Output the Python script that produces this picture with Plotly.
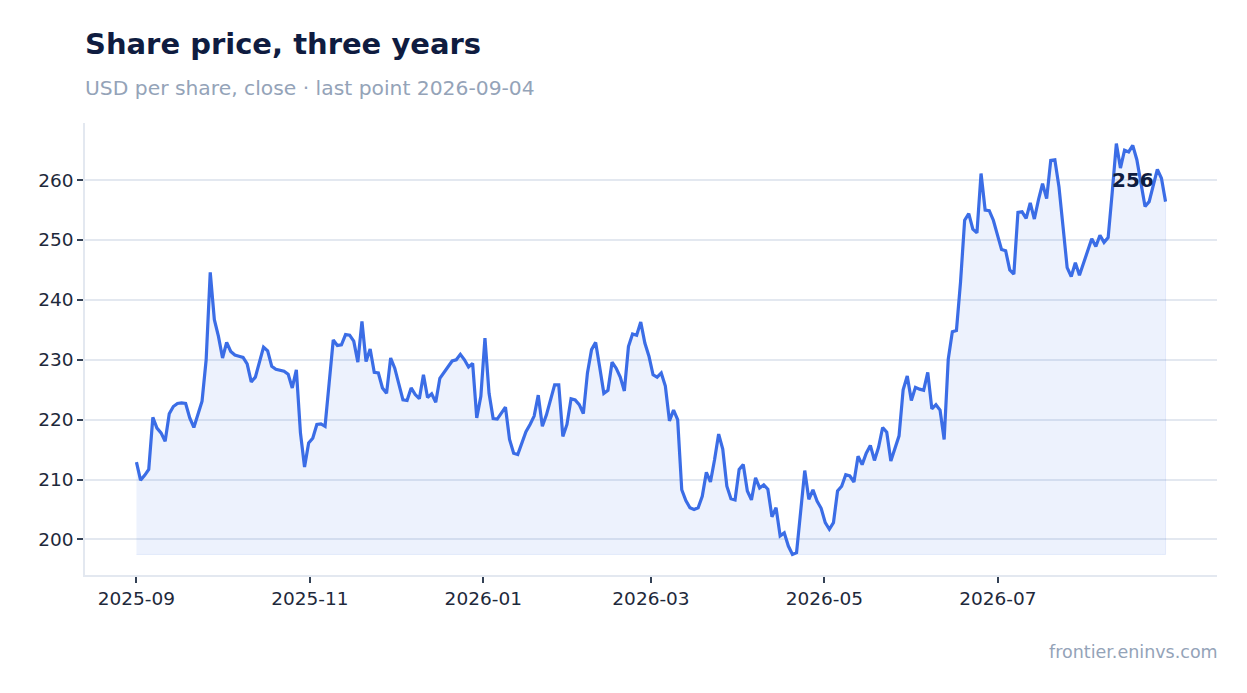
import pandas as pd
import plotly.graph_objects as go

# ---- data -------------------------------------------------------------
start_date = "2025-09-01"
end_date = "2026-08-29"

prices = [
    212.9, 209.9, 210.7, 211.7, 220.4, 218.6, 217.8, 216.4, 221.0, 222.2,
    222.7, 222.8, 222.7, 220.3, 218.7, 220.8, 223.1, 230.0, 244.6, 236.7,
    233.9, 230.3, 232.9, 231.4, 230.8, 230.6, 230.4, 229.3, 226.3, 227.1,
    229.6, 232.1, 231.5, 228.9, 228.4, 228.2, 228.1, 227.6, 225.3, 228.3,
    217.8, 212.1, 216.1,
    216.9, 219.2, 219.3, 218.9, 226.1, 233.3, 232.4, 232.5, 234.2, 234.1,
    233.1, 229.6, 236.4, 229.7, 231.8, 227.9, 227.8, 225.3, 224.4, 230.3,
    228.6, 226.0, 223.3, 223.2, 225.3, 224.2, 223.5, 227.5, 223.7, 224.3,
    222.9, 226.9, 227.9, 228.7, 229.8, 230.0, 230.9, 230.0, 228.8, 229.4,
    220.3, 223.9, 233.6, 224.4, 220.2, 220.1, 221.0, 222.1, 216.7, 214.4,
    214.2, 216.1, 218.0, 219.2, 220.6, 224.1, 218.9, 220.8, 223.3, 225.8,
    225.8, 217.2, 219.2, 223.5, 223.3, 222.5, 221.0, 227.8, 231.7, 232.9,
    228.7, 224.4, 224.9, 229.6, 228.6, 227.1, 224.8, 232.2, 234.3, 234.1,
    236.3, 232.8, 230.6,
    227.5, 227.1, 227.8, 225.6, 219.8, 221.6, 220.0, 208.3, 206.5, 205.3,
    205.0, 205.3, 207.2, 211.2, 209.6, 213.3, 217.6, 215.1, 208.9, 206.8,
    206.6, 211.7, 212.5, 208.1, 206.6, 210.3, 208.6, 209.1, 208.4, 203.8,
    205.3, 200.6, 201.1, 198.9, 197.5, 197.8, 204.6, 211.5, 206.7, 208.3,
    206.4, 205.2, 202.8, 201.7, 202.8, 208.1,
    208.9, 210.8, 210.6, 209.6, 213.9, 212.5, 214.4, 215.7, 213.2, 215.4,
    218.7, 217.9, 213.1, 215.1, 217.3, 225.0, 227.3, 223.2, 225.4, 225.1,
    224.9, 227.9, 221.8, 222.5, 221.6, 216.7, 230.1, 234.7, 234.9, 243.0,
    253.3, 254.4, 251.8, 251.2, 261.1, 255.0, 254.9,
    253.3, 250.8, 248.4, 248.2, 245.0, 244.3, 254.6, 254.7, 253.6, 256.2,
    253.5, 256.7, 259.4, 256.9, 263.3, 263.4, 258.9, 252.2, 245.4, 243.9,
    246.2, 244.1, 246.1, 247.9, 250.2, 248.9, 250.8, 249.6, 250.4, 258.0,
    266.1, 262.0, 265.0, 264.7, 265.8, 263.4, 259.4, 255.6, 256.4, 259.4,
    261.8, 260.3, 256.4,
]

title_text = "Share price, three years"
subtitle_text = "USD per share, close · last point 2026-09-04"
source_text = "frontier.eninvs.com"
y_ticks = [200, 210, 220, 230, 240, 250, 260]
x_ticks = ["2025-09-01", "2025-11-01", "2026-01-01", "2026-03-01", "2026-05-01", "2026-07-01"]

# ---- build ------------------------------------------------------------
dates = pd.date_range(start_date, end_date, periods=len(prices))
base = min(prices)

LINE = "#3b6de6"
FONT = "DejaVu Sans"
INK = "#0f1c40"
MUTED = "#94a3b8"
GRID = "#e3e8f0"

W, H = 1247, 693
ML, MR, MT, MB = 77, 38, 115, 126
PH = H - MT - MB

fig = go.Figure()

# filled area down to the minimum
poly_x = list(dates) + list(dates[::-1])
poly_y = list(prices) + [base] * len(prices)
fig.add_trace(go.Scatter(
    x=poly_x, y=poly_y, mode="lines", fill="toself",
    fillcolor="rgba(59,109,230,0.09)",
    line=dict(color="rgba(59,109,230,0.10)", width=1),
    hoverinfo="skip", showlegend=False,
))

fig.add_trace(go.Scatter(
    x=dates, y=prices, mode="lines",
    line=dict(color=LINE, width=3.2),
    showlegend=False,
))

span = dates[-1] - dates[0]
x_range = [dates[0] - span * 0.05, dates[-1] + span * 0.05]
yspan = max(prices) - min(prices)
y_range = [min(prices) - yspan * 0.05, max(prices) + yspan * 0.05]

fig.update_layout(
    width=W, height=H,
    paper_bgcolor="white", plot_bgcolor="white",
    margin=dict(l=ML, r=MR, t=MT, b=MB),
    font=dict(family=FONT, color="#1e293b", size=18),
    title=dict(
        text=f"<b>{title_text}</b>",
        x=ML / W, xanchor="left", xref="container",
        y=1 - 36 / H, yanchor="middle", yref="container",
        font=dict(family=FONT, size=29, color=INK),
    ),
    xaxis=dict(
        range=x_range,
        tickvals=x_ticks, tickformat="%Y-%m",
        showgrid=False, zeroline=False,
        showline=True, linecolor=GRID, linewidth=1.5,
        ticks="outside", ticklen=6, tickcolor="#334155", tickwidth=1.5,
        tickfont=dict(family=FONT, size=18.5, color="#1e293b"),
    ),
    yaxis=dict(
        range=y_range,
        tickvals=y_ticks,
        showgrid=True, gridcolor=GRID, gridwidth=1.5,
        zeroline=False,
        showline=True, linecolor=GRID, linewidth=1.5,
        ticks="outside", ticklen=6, tickcolor="#334155", tickwidth=1.5,
        tickfont=dict(family=FONT, size=18.5, color="#1e293b"),
    ),
    annotations=[
        dict(
            text=subtitle_text, xref="paper", yref="paper",
            x=0, y=(H - MB - 80) / PH, xanchor="left", yanchor="middle",
            xshift=-2, showarrow=False,
            font=dict(family=FONT, size=20.3, color=MUTED),
        ),
        dict(
            text=source_text, xref="paper", yref="paper",
            x=1, y=(H - MB - 644) / PH, xanchor="right", yanchor="middle",
            xshift=3, showarrow=False,
            font=dict(family=FONT, size=17.5, color=MUTED),
        ),
        dict(
            text=f"<b>{prices[-1]:.0f}</b>", x=dates[-1], y=prices[-1],
            xref="x", yref="y", xanchor="right", yanchor="middle",
            xshift=-10, yshift=22, showarrow=False,
            font=dict(family=FONT, size=20, color=INK),
        ),
    ],
)

fig.write_html("out.html")
